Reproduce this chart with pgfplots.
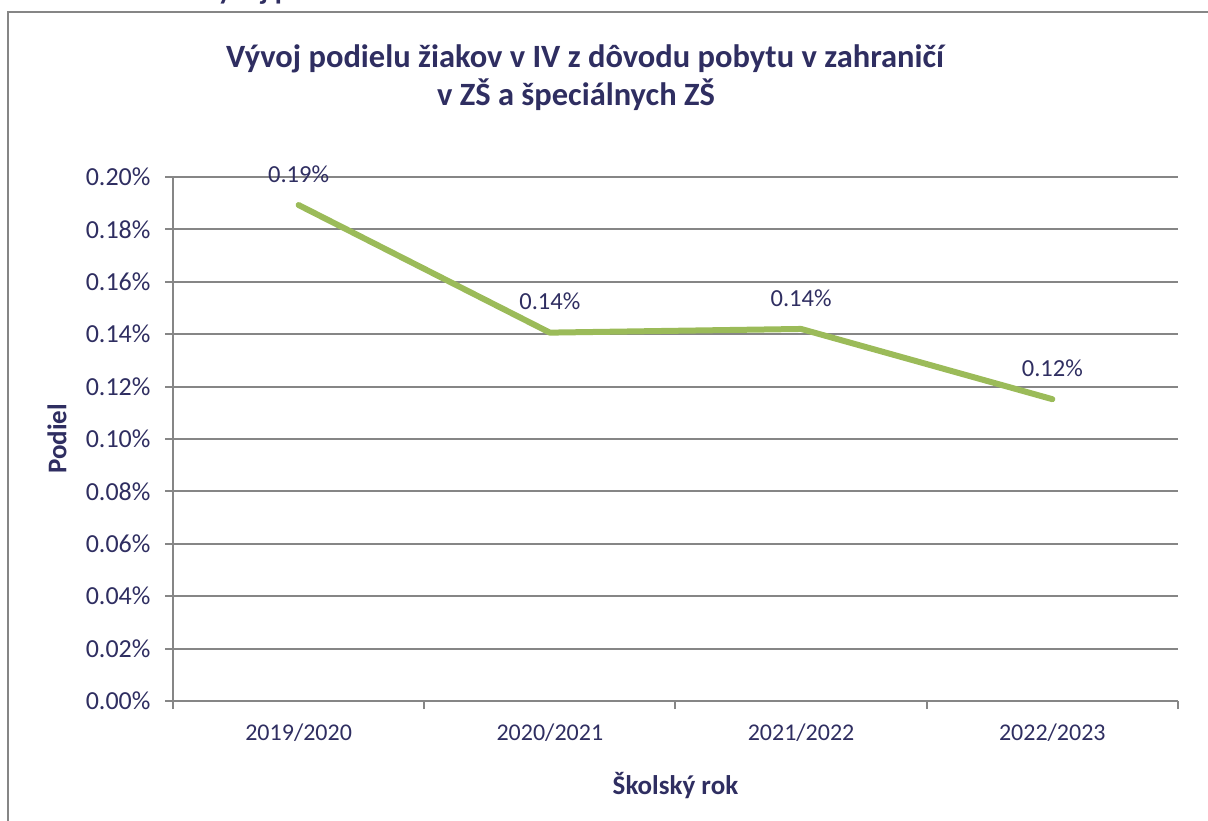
\documentclass[border=0pt]{standalone}
\usepackage{fontspec}
\setmainfont{Carlito}
\usepackage{pgfplots}
\pgfplotsset{compat=1.18}
\definecolor{txt}{RGB}{47,46,97}
\definecolor{grd}{RGB}{134,134,134}
\definecolor{lgreen}{RGB}{155,187,89}
\begin{document}
\begin{tikzpicture}[x=1pt,y=1pt]
\useasboundingbox (0,0) rectangle (1208,820);
\draw[grd, line width=2pt] (8,-10) -- (8,808) -- (1220,808);
\node[anchor=base west, font=\fontsize{29}{34}\selectfont\bfseries, text=txt, inner sep=0] at (201,820) {Vývoj p};
\node[anchor=base, font=\fontsize{32.5}{38}\selectfont\bfseries, text=txt, inner sep=0] at (585,752) {Vývoj podielu žiakov v IV z dôvodu pobytu v zahraničí};
\node[anchor=base, font=\fontsize{32.5}{38}\selectfont\bfseries, text=txt, inner sep=0] at (576,714) {v ZŠ a špeciálnych ZŠ};
\begin{axis}[
  at={(173pt,119pt)}, anchor=south west,
  scale only axis, width=1005pt, height=524pt,
  xmin=-0.5, xmax=3.5, ymin=0, ymax=0.2,
  axis x line*=bottom, axis y line*=left,
  axis line style={grd, line width=2pt},
  every outer x axis line/.append style={-}, every outer y axis line/.append style={-},
  ytick={0,0.02,...,0.201},
  yticklabel={\pgfmathprintnumber[fixed,precision=2,zerofill]{\tick}\%},
  /pgf/number format/assume math mode=true,
  ymajorgrids, grid style={grd, line width=2pt},
  tick style={grd, line width=2pt},
  major tick length=8pt,
  tick align=outside,
  xtick={-0.5,0.5,1.5,2.5,3.5}, xticklabels={},
  extra x ticks={0,1,2,3},
  extra x tick labels={2019/2020,2020/2021,2021/2022,2022/2023},
  extra x tick style={major tick length=0pt, grid=none},
  yticklabel style={font=\fontsize{26}{30}\selectfont, text=txt, xshift=-11pt},
  xticklabel style={font=\fontsize{24}{28}\selectfont, text=txt, yshift=-19pt},
  xlabel={Školský rok}, ylabel={Podiel},
  label style={font=\fontsize{27}{32}\selectfont\bfseries, text=txt},
  xlabel style={at={(axis description cs:0.5,-0.162)}, anchor=center},
  ylabel style={at={(axis description cs:-0.1154,0.5)}, anchor=center, rotate=0},
  clip=false,
  nodes near coords={\pgfmathprintnumber[fixed,precision=2,zerofill,assume math mode=true]{\pgfplotspointmeta}\%},
  every node near coord/.style={font=\fontsize{24.5}{28}\selectfont, text=txt, anchor=center, yshift=31pt},
  point meta=y,
]
\addplot[lgreen, line width=6pt, line cap=round, line join=round, mark=none] coordinates {
  (0,0.1893) (1,0.1406) (2,0.1420) (3,0.1152)
};
\end{axis}
\end{tikzpicture}
\end{document}
